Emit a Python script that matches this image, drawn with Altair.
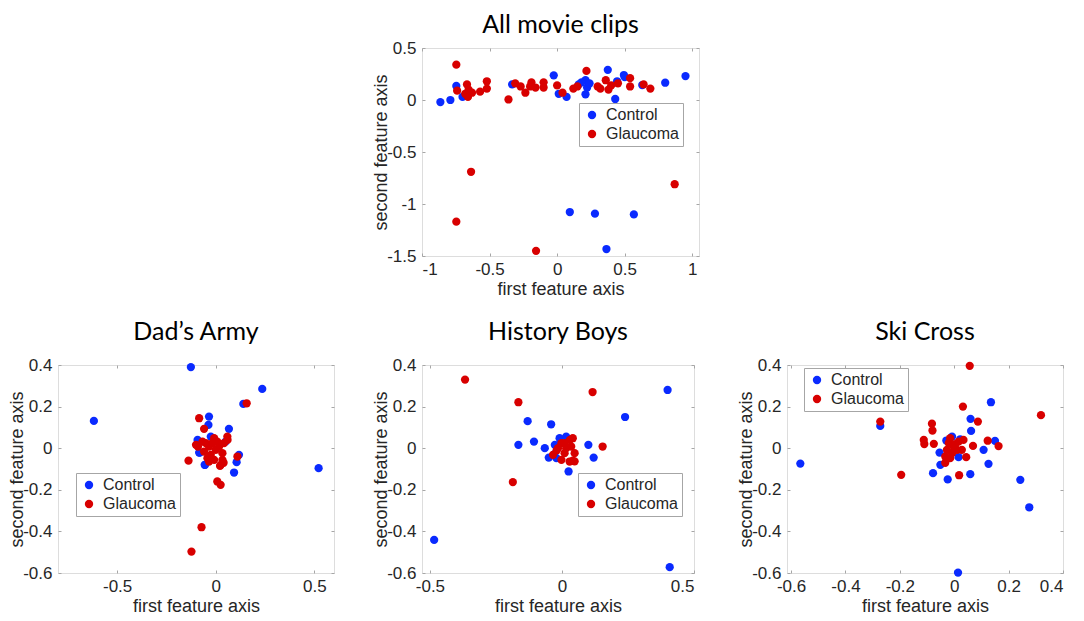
import altair as alt
import pandas as pd

# ---------------- data ----------------
groups = ["Control", "Glaucoma"]
colors = ["#0a2aff", "#d80000"]

# All movie clips
all_ctrl_x = [-0.864, -0.79, -0.746, -0.70, -0.333, -0.025, 0.012, 0.07, 0.16, 0.21, 0.222, 0.21, 0.24,
              0.18, 0.375, 0.43, 0.444, 0.494, 0.50, 0.63, 0.80, 0.95, 0.094, 0.28, 0.568, 0.365]
all_ctrl_y = [-0.02, 0.0, 0.135, 0.03, 0.15, 0.237, 0.06, 0.03, 0.15, 0.19, 0.12, 0.055, 0.16,
              0.17, 0.29, 0.01, 0.18, 0.24, 0.22, 0.144, 0.166, 0.23, -1.077, -1.093, -1.10, -1.433]
all_glau_x = [-0.746, -0.74, -0.667, -0.655, -0.68, -0.63, -0.66, -0.57, -0.52, -0.52, -0.36, -0.31,
              -0.27, -0.235, -0.20, -0.19, -0.16, -0.10, -0.10, 0.0, 0.04, 0.12, 0.15, 0.217, 0.30,
              0.32, 0.36, 0.38, 0.40, 0.45, 0.54, 0.54, 0.64, 0.69,
              -0.637, -0.746, -0.156, 0.87]
all_glau_y = [0.34, 0.09, 0.15, 0.10, 0.06, 0.07, 0.03, 0.08, 0.18, 0.11, 0.005, 0.16,
              0.13, 0.07, 0.13, 0.17, 0.12, 0.17, 0.12, 0.14, 0.07, 0.11, 0.13, 0.28, 0.13,
              0.11, 0.19, 0.10, 0.14, 0.16, 0.21, 0.13, 0.15, 0.11,
              -0.69, -1.17, -1.45, -0.81]

# Dad's Army
dad_ctrl_x = [-0.126, -0.618, 0.236, 0.14, -0.034, -0.037, 0.067, -0.092, -0.025, -0.084, -0.054,
              0.118, 0.106, 0.093, 0.05, 0.522, -0.056, -0.081]
dad_ctrl_y = [0.39, 0.131, 0.285, 0.213, 0.152, 0.112, 0.093, 0.04, 0.056, -0.021, -0.08,
              -0.032, -0.067, -0.117, 0.032, -0.096, -0.08, -0.021]
dad_glau_x = [0.157, -0.084, -0.059, 0.059, -0.1, -0.138, 0.11, 0.008, 0.025, 0.025, 0.034,
              -0.05, -0.034, -0.017, 0.0, -0.025, -0.042, -0.008, 0.017, 0.034, 0.008, -0.059,
              -0.034, 0.042, -0.067, -0.008, 0.04, 0.022, -0.072, -0.123, -0.09, 0.06]
dad_glau_y = [0.216, 0.144, 0.093, 0.056, 0.016, -0.06, -0.04, -0.16, -0.176, -0.08, -0.056,
              0.024, 0.008, 0.024, -0.008, -0.032, -0.048, -0.056, 0.008, -0.024, 0.032, -0.016,
              -0.064, 0.024, 0.032, 0.048, -0.07, -0.085, -0.38, -0.497, 0.008, 0.04]

# History Boys
his_ctrl_x = [0.40, 0.239, -0.13, -0.041, -0.165, -0.106, -0.065, 0.10, -0.484, 0.408, 0.12,
              0.025, -0.05, -0.027, -0.009, 0.016, -0.021, -0.03]
his_ctrl_y = [0.28, 0.15, 0.13, 0.115, 0.016, 0.032, 0.0, 0.016, -0.441, -0.572, -0.045,
              -0.112, -0.045, 0.016, 0.048, 0.056, -0.048, -0.03]
his_glau_x = [-0.367, -0.165, 0.116, 0.154, -0.186, 0.041, 0.03, -0.002, -0.015, -0.034, 0.01,
              0.048, 0.029, 0.041, 0.016, 0.035, 0.01, -0.002, -0.02, 0.048]
his_glau_y = [0.33, 0.221, 0.27, 0.008, -0.163, 0.048, 0.04, 0.024, 0.0, -0.032, -0.024,
              -0.024, -0.064, -0.06, 0.0, 0.008, 0.024, -0.056, -0.01, -0.063]

# Ski Cross
ski_ctrl_x = [0.135, 0.06, 0.062, -0.272, -0.566, 0.108, 0.15, 0.126, -0.078, -0.024, 0.059,
              0.243, 0.276, 0.014, -0.029, 0.022, -0.008, 0.016, -0.054, -0.051]
ski_ctrl_y = [0.221, 0.141, 0.083, 0.107, -0.074, -0.008, 0.035, -0.075, -0.12, -0.15, -0.125,
              -0.152, -0.284, -0.598, 0.037, 0.043, 0.056, -0.043, -0.021, -0.08]
ski_glau_x = [0.057, 0.032, 0.319, -0.272, -0.082, -0.08, 0.087, -0.112, -0.11, -0.075, 0.069,
              0.123, 0.163, 0.044, -0.195, 0.018, -0.033, -0.015, -0.02, -0.002, 0.016, 0.028,
              -0.027, -0.008, 0.01, -0.033, -0.015, 0.004, 0.034]
ski_glau_y = [0.396, 0.2, 0.159, 0.128, 0.118, 0.085, 0.128, 0.04, 0.02, 0.021, 0.011,
              0.036, 0.01, -0.043, -0.128, -0.13, -0.07, 0.048, 0.024, 0.008, 0.032, -0.008,
              -0.008, -0.024, -0.008, -0.04, -0.048, 0.02, 0.04]

# axis settings per panel
all_xdom, all_ydom = [-1.0, 1.05], [-1.5, 0.5]
all_xticks, all_yticks = [-1, -0.5, 0, 0.5, 1], [-1.5, -1, -0.5, 0, 0.5]
dad_xdom, his_xdom, ski_xdom = [-0.8, 0.6], [-0.53, 0.5], [-0.615, 0.4]
bot_ydom = [-0.6, 0.4]
half_ticks = [-0.5, 0, 0.5]
ski_xticks = [-0.6, -0.4, -0.2, 0, 0.2, 0.4]
bot_yticks = [-0.6, -0.4, -0.2, 0, 0.2, 0.4]

FONT = "Liberation Sans"
TFONT = "Lato"
GRAY = "#a6a6a6"
LBL = "#262626"
LABEL_EXPR = "toString(datum.value)"
H = 208


def frame(cx, cy, gx, gy):
    a = pd.DataFrame({"x": cx, "y": cy, "g": groups[0]})
    b = pd.DataFrame({"x": gx, "y": gy, "g": groups[1]})
    d = pd.concat([a, b], ignore_index=True)
    d["o"] = range(len(d))
    return d


def panel(df, title, xdom, ydom, xticks, yticks, lx, ly, w, toff, h=H):
    xs = alt.Scale(domain=xdom, nice=False, zero=False)
    ys = alt.Scale(domain=ydom, nice=False, zero=False)
    axis_common = dict(domain=False, grid=False, tickColor=GRAY, tickSize=3, offset=-3,
                       labelFont=FONT, labelFontSize=17, labelColor=LBL, labelExpr=LABEL_EXPR,
                       titleFont=FONT, titleFontSize=18, titleFontWeight="normal", titleColor=LBL)
    pts = alt.Chart(df).mark_circle(size=68, opacity=1).encode(
        x=alt.X("x:Q", scale=xs, title="first feature axis",
                axis=alt.Axis(values=xticks, labelPadding=5, titlePadding=3, **axis_common)),
        y=alt.Y("y:Q", scale=ys, title="second feature axis",
                axis=alt.Axis(values=yticks, labelPadding=6, titlePadding=-4, **axis_common)),
        color=alt.Color("g:N", scale=alt.Scale(domain=groups, range=colors),
                        legend=alt.Legend(orient="none", legendX=lx, legendY=ly, title=None,
                                          fillColor="white", strokeColor=GRAY, padding=4,
                                          labelFont=FONT, labelFontSize=16, labelColor=LBL,
                                          symbolType="circle", symbolSize=70, rowPadding=3,
                                          symbolOffset=1, labelOffset=6)),
        order=alt.Order("o:Q"),
    )
    tick_off = dict(domain=False, grid=False, tickColor=GRAY, tickSize=3, offset=-3,
                    labels=False, title=None)
    frame_layer = alt.Chart(df).mark_circle(opacity=0).encode(
        x=alt.X("x:Q", scale=xs, axis=alt.Axis(orient="top", values=xticks, **tick_off)),
        y=alt.Y("y:Q", scale=ys, axis=alt.Axis(orient="right", values=yticks, **tick_off)),
    )
    return alt.layer(pts, frame_layer).resolve_axis(x="independent", y="independent").properties(
        width=w, height=h,
        title=alt.Title(title, font=TFONT, fontSize=25, fontWeight="normal", color="black", offset=toff),
    )


def spacer():
    d = pd.DataFrame({"x": [0.0]})
    return alt.Chart(d).mark_point(opacity=0).encode(
        x=alt.X("x:Q", axis=None), y=alt.Y("x:Q", axis=None)
    ).properties(width=10, height=10, view=alt.ViewBackground(stroke="transparent"))


top = panel(frame(all_ctrl_x, all_ctrl_y, all_glau_x, all_glau_y), "All movie clips",
            all_xdom, all_ydom, all_xticks, all_yticks, 157, 55, 277, 1)
p1 = panel(frame(dad_ctrl_x, dad_ctrl_y, dad_glau_x, dad_glau_y), "Dad\u2019s Army",
           dad_xdom, bot_ydom, half_ticks, bot_yticks, 18, 108, 276, 11)
p2 = panel(frame(his_ctrl_x, his_ctrl_y, his_glau_x, his_glau_y), "History Boys",
           his_xdom, bot_ydom, half_ticks, bot_yticks, 156, 108, 272, 11)
p3 = panel(frame(ski_ctrl_x, ski_ctrl_y, ski_glau_x, ski_glau_y), "Ski Cross",
           ski_xdom, bot_ydom, ski_xticks, bot_yticks, 17, 3, 276, 11)

chart = alt.concat(spacer(), top, spacer(), p1, p2, p3, columns=3,
                   spacing={"row": 20, "column": 37}) \
    .resolve_scale(color="independent").resolve_legend(color="independent") \
    .properties(padding={"left": 0, "top": 4, "right": 0, "bottom": 0},
                align="each") \
    .configure_view(stroke=GRAY, strokeWidth=1) \
    .configure(background="white")

chart.save("out.html", embed_options={"renderer": "svg", "actions": False})
